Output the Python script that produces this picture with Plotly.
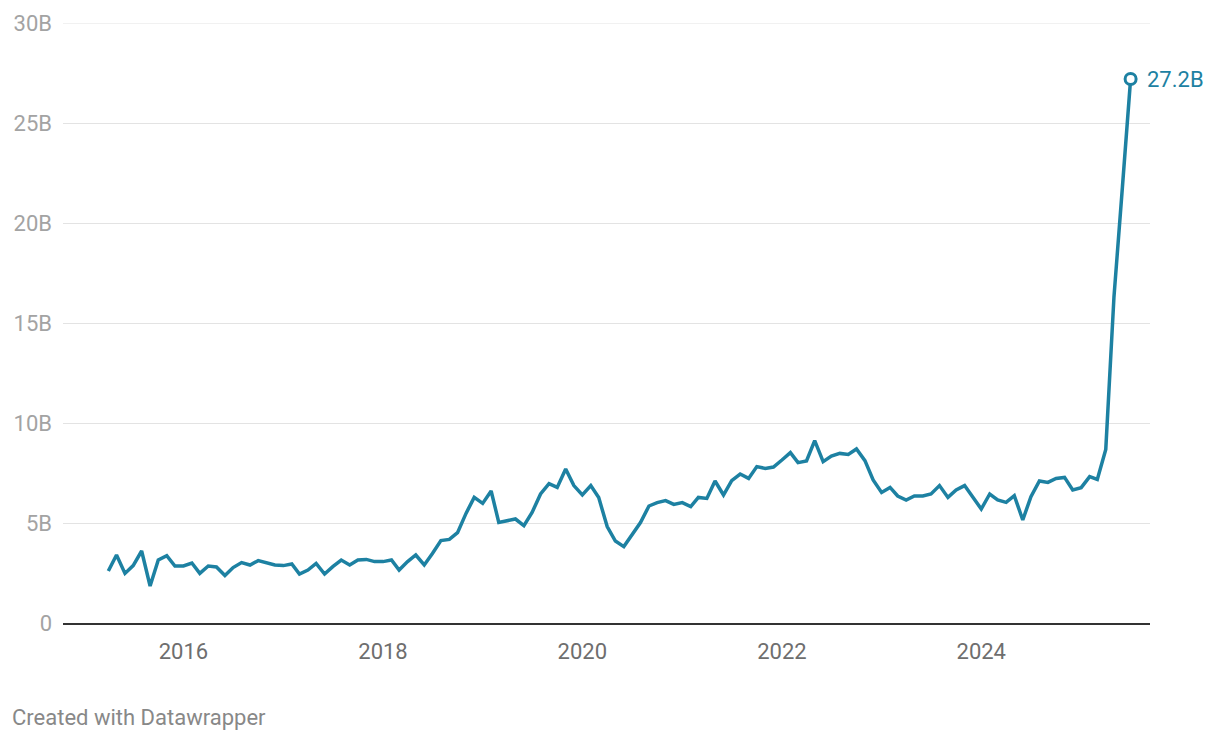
import plotly.graph_objects as go
import pandas as pd

# Monthly values (billions), April 2015 – July 2025
start_month = "2015-04-01"
values = [
    # 2015 (Apr–Dec)
    2.6, 3.4, 2.48, 2.87, 3.6, 1.85, 3.15, 3.37, 2.85,
    # 2016
    2.85, 3.0, 2.48, 2.85, 2.8, 2.37, 2.77, 3.02, 2.9, 3.12, 3.02, 2.9,
    # 2017
    2.87, 2.95, 2.45, 2.65, 2.98, 2.45, 2.82, 3.15, 2.9, 3.15, 3.18, 3.07,
    # 2018
    3.07, 3.15, 2.65, 3.07, 3.4, 2.9, 3.48, 4.12, 4.18, 4.52, 5.48, 6.28,
    # 2019
    5.98, 6.6, 5.03, 5.12, 5.2, 4.87, 5.53, 6.45, 6.97, 6.78, 7.7, 6.87,
    # 2020
    6.4, 6.87, 6.27, 4.82, 4.1, 3.82, 4.43, 5.02, 5.85, 6.02, 6.12, 5.93,
    # 2021
    6.02, 5.82, 6.28, 6.23, 7.1, 6.4, 7.12, 7.45, 7.23, 7.82, 7.73, 7.8,
    # 2022
    8.15, 8.52, 8.02, 8.1, 9.12, 8.07, 8.35, 8.48, 8.43, 8.7, 8.12, 7.15,
    # 2023
    6.53, 6.78, 6.35, 6.15, 6.35, 6.35, 6.45, 6.87, 6.28, 6.65, 6.87, 6.28,
    # 2024
    5.7, 6.45, 6.15, 6.03, 6.37, 5.15, 6.32, 7.1, 7.03, 7.23, 7.28, 6.65,
    # 2025 (Jan–Jul)
    6.77, 7.32, 7.18, 8.68, 16.3, 21.8, 27.2,
]
dates = pd.date_range(start_month, periods=len(values), freq="MS")

y_tick_vals = [0, 5, 10, 15, 20, 25, 30]
y_tick_text = ["0", "5B", "10B", "15B", "20B", "25B", "30B"]
x_tick_vals = ["2016-01-01", "2018-01-01", "2020-01-01", "2022-01-01", "2024-01-01"]
x_tick_text = ["2016", "2018", "2020", "2022", "2024"]
end_label = "27.2B"
footer = "Created with Datawrapper"

LINE = "#1d81a2"
GRID = "#e3e3e3"
FONT = "Roboto"

fig = go.Figure()
fig.add_trace(go.Scatter(
    x=dates, y=values, mode="lines",
    line=dict(color=LINE, width=3.5),
    hoverinfo="skip", showlegend=False,
))
fig.add_trace(go.Scatter(
    x=[dates[-1]], y=[values[-1]], mode="markers",
    marker=dict(size=11, color="white", line=dict(color=LINE, width=3)),
    hoverinfo="skip", showlegend=False,
))

# top gridline (at the edge of the range, which plotly does not draw)
fig.add_shape(
    type="line", xref="paper", yref="y", x0=0, x1=1,
    y0=y_tick_vals[-1], y1=y_tick_vals[-1],
    line=dict(color=GRID, width=1), layer="below",
)

fig.add_annotation(
    x=dates[-1], y=values[-1], text=end_label, showarrow=False,
    xanchor="left", yanchor="middle", xshift=14,
    font=dict(family=FONT, size=22, color=LINE),
)

# page body has an 8px margin; figure is sized to fill the rest of the window
OFF = 8
W, H = 1220 - OFF, 740 - OFF
L, R, T, B = 63 - OFF, 70, 23 - OFF, 117
pw = W - L - R
ph = H - T - B
fig.add_annotation(
    xref="paper", yref="paper",
    x=(10 - OFF - L) / pw, y=-(717 - OFF - T - ph) / ph,
    text=footer, showarrow=False, xanchor="left", yanchor="middle",
    font=dict(family=FONT, size=22, color="#888888"),
)

fig.update_layout(
    width=W, height=H,
    margin=dict(l=L, r=R, t=T, b=B, pad=0, autoexpand=False),
    plot_bgcolor="white", paper_bgcolor="white",
    font=dict(family=FONT),
    xaxis=dict(
        type="date", automargin=False,
        range=["2014-10-17", "2025-09-10"],
        tickvals=x_tick_vals, ticktext=x_tick_text,
        showgrid=False, zeroline=False,
        showline=True, linecolor="#333333", linewidth=1.5,
        ticks="", ticklabelstandoff=8,
        tickfont=dict(family=FONT, size=22, color="#6e6e6e"),
        fixedrange=True,
    ),
    yaxis=dict(
        automargin=False,
        range=[0, 30],
        tickvals=y_tick_vals, ticktext=y_tick_text,
        showgrid=True, gridcolor=GRID, gridwidth=1,
        zeroline=False, showline=False,
        ticks="", ticklabelstandoff=10,
        tickfont=dict(family=FONT, size=22, color="#a3a3a3"),
        fixedrange=True,
    ),
)

fig.write_html("out.html", config={"displayModeBar": False})
